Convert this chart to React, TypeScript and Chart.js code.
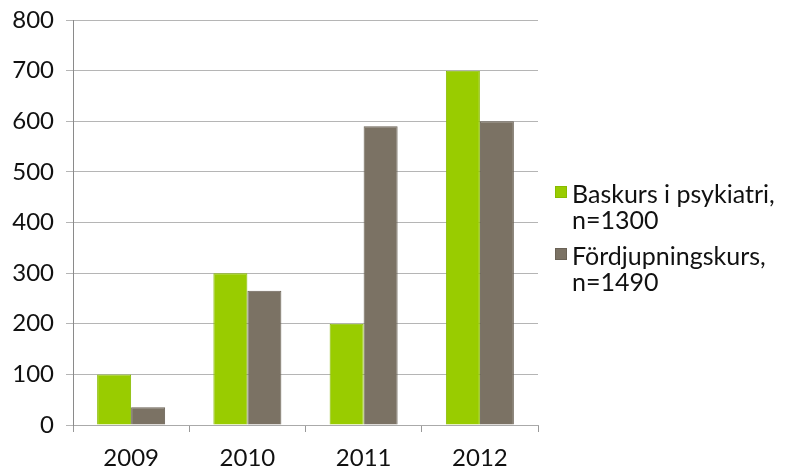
import React, { useEffect, useRef } from "react";
import { Chart, registerables } from "chart.js";

Chart.register(...registerables);

const categories = ["2009", "2010", "2011", "2012"];
const baskurs = [100, 300, 200, 700];
const fordjupning = [35, 265, 590, 600];
const seriesNames = [["Baskurs i psykiatri,", "n=1300"], ["Fördjupningskurs,", "n=1490"]];
const yTicks = [0, 100, 200, 300, 400, 500, 600, 700, 800];

const GREEN = "#99cc00";
const GREEN_BORDER = "#88bb00";
const GRAY = "#7b7264";
const GRAY_BORDER = "#6a6256";
const FONT = "Lato, 'DejaVu Sans', sans-serif";

export default function App() {
  const ref = useRef<HTMLCanvasElement | null>(null);

  useEffect(() => {
    if (!ref.current) return;
    const chart = new Chart(ref.current, {
      type: "bar",
      data: {
        labels: categories,
        datasets: [
          {
            label: seriesNames[0].join(" "),
            data: baskurs,
            backgroundColor: GREEN,
            borderColor: GREEN_BORDER,
            borderWidth: 1,
            categoryPercentage: 0.585,
            barPercentage: 1,
          },
          {
            label: seriesNames[1].join(" "),
            data: fordjupning,
            backgroundColor: GRAY,
            borderColor: GRAY_BORDER,
            borderWidth: 1,
            categoryPercentage: 0.585,
            barPercentage: 1,
          },
        ],
      },
      options: {
        animation: false,
        responsive: false,
        maintainAspectRatio: false,
        layout: { padding: { top: 20, right: 247, left: 0, bottom: 0 } },
        plugins: {
          legend: { display: false },
          tooltip: { enabled: false },
        },
        scales: {
          x: {
            offset: true,
            afterFit: (s: any) => {
              s.height = 46;
              s.paddingLeft = 0;
              s.paddingRight = 0;
            },
            grid: {
              offset: true,
              drawOnChartArea: false,
              drawTicks: true,
              tickLength: 7,
              color: "#999999",
            },
            border: { display: true, color: "#aaaaaa" },
            ticks: {
              color: "#111111",
              font: { family: FONT, size: 24 },
              padding: 12,
            },
          },
          y: {
            min: 0,
            max: 800,
            afterFit: (s: any) => {
              s.width = 73;
              s.paddingTop = 0;
              s.paddingBottom = 0;
            },
            afterBuildTicks: (s: any) => {
              s.ticks = yTicks.map((v) => ({ value: v }));
            },
            grid: {
              color: "#b5b5b5",
              tickLength: 7,
              lineWidth: 1,
            },
            border: { display: true, color: "#8a8a8a" },
            ticks: {
              color: "#111111",
              font: { family: FONT, size: 24 },
              padding: 12,
            },
          },
        },
      },
    });
    return () => chart.destroy();
  }, []);

  const legendItem = (color: string, border: string, lines: string[], top: number) => (
    <div style={{ position: "absolute", left: 555, top, display: "flex", alignItems: "flex-start" }}>
      <div
        style={{
          width: 12,
          height: 12,
          marginTop: 6,
          background: color,
          border: `1px solid ${border}`,
          boxSizing: "border-box",
        }}
      />
      <div style={{ marginLeft: 5, fontFamily: FONT, fontSize: 25, lineHeight: "26px", color: "#111111" }}>
        {lines.map((l, i) => (
          <div key={i} style={{ whiteSpace: "nowrap" }}>{l}</div>
        ))}
      </div>
    </div>
  );

  return (
    <div style={{ position: "fixed", left: 0, top: 0, width: 785, height: 471, background: "#ffffff" }}>
      <canvas ref={ref} width={785} height={471} style={{ display: "block" }} />
      {legendItem(GREEN, GREEN_BORDER, seriesNames[0], 180)}
      {legendItem(GRAY, GRAY_BORDER, seriesNames[1], 242)}
    </div>
  );
}
